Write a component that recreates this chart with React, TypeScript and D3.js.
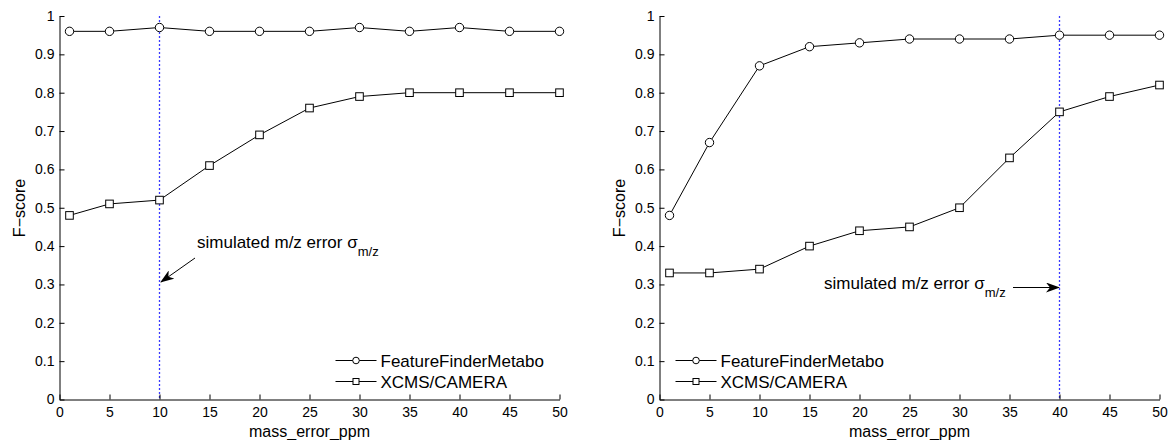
import { useEffect, useRef } from "react";
import * as d3 from "d3";

const PPM = [1, 5, 10, 15, 20, 25, 30, 35, 40, 45, 50];
const X_TICKS = [0, 5, 10, 15, 20, 25, 30, 35, 40, 45, 50];
const Y_TICKS = [0, 0.1, 0.2, 0.3, 0.4, 0.5, 0.6, 0.7, 0.8, 0.9, 1];

const LEFT_FFM = [0.96, 0.96, 0.97, 0.96, 0.96, 0.96, 0.97, 0.96, 0.97, 0.96, 0.96];
const LEFT_XCMS = [0.48, 0.51, 0.52, 0.61, 0.69, 0.76, 0.79, 0.8, 0.8, 0.8, 0.8];
const RIGHT_FFM = [0.48, 0.67, 0.87, 0.92, 0.93, 0.94, 0.94, 0.94, 0.95, 0.95, 0.95];
const RIGHT_XCMS = [0.33, 0.33, 0.34, 0.4, 0.44, 0.45, 0.5, 0.63, 0.75, 0.79, 0.82];

const SERIES_NAMES = ["FeatureFinderMetabo", "XCMS/CAMERA"];
const FONT = "'Liberation Sans', Arial, Helvetica, sans-serif";

interface Panel {
  x0: number;
  ffm: number[];
  xcms: number[];
  sigma: number;
  legendX: number;
  note: { x: number; y: number };
  arrow: [number, number, number, number];
}

const PANELS: Panel[] = [
  { x0: 59.5, ffm: LEFT_FFM, xcms: LEFT_XCMS, sigma: 10, legendX: 335.5, note: { x: 197, y: 248 }, arrow: [195, 258, 161, 282] },
  { x0: 659.5, ffm: RIGHT_FFM, xcms: RIGHT_XCMS, sigma: 40, legendX: 675.5, note: { x: 824, y: 289 }, arrow: [1013, 287.5, 1059, 287.5] },
];

export default function App() {
  const svgRef = useRef<SVGSVGElement>(null);

  useEffect(() => {
    const svg = d3.select(svgRef.current);
    svg.selectAll("*").remove();

    svg
      .append("defs")
      .append("marker")
      .attr("id", "arrowhead")
      .attr("viewBox", "0 0 14 10")
      .attr("refX", 13)
      .attr("refY", 5)
      .attr("markerWidth", 14)
      .attr("markerHeight", 10)
      .attr("markerUnits", "userSpaceOnUse")
      .attr("orient", "auto")
      .append("path")
      .attr("d", "M0,0 L14,5 L0,10 L4,5 Z")
      .attr("fill", "#000");

    const top = 16;
    const bottom = 399.5;
    const width = 500;

    PANELS.forEach((p) => {
      const x = d3.scaleLinear().domain([0, 50]).range([p.x0, p.x0 + width]);
      const y = d3.scaleLinear().domain([0, 1]).range([bottom, top]);
      const g = svg.append("g");

      // sigma line
      g.append("line")
        .attr("x1", x(p.sigma))
        .attr("x2", x(p.sigma))
        .attr("y1", y(1))
        .attr("y2", y(0))
        .attr("stroke", "#3a3aff")
        .attr("stroke-width", 1.3)
        .attr("stroke-dasharray", "2 2");

      g.append("g")
        .attr("transform", `translate(0,${bottom})`)
        .call(d3.axisBottom(x).tickValues(X_TICKS).tickSize(-5).tickPadding(8).tickSizeOuter(0))
        .call((ax) => {
          ax.select(".domain").attr("stroke", "#000");
          ax.selectAll(".tick line").attr("stroke", "#000");
          ax.selectAll("text").attr("fill", "#000").attr("font-size", 14).style("font-family", FONT);
        });
      g.append("g")
        .attr("transform", `translate(${p.x0},0)`)
        .call(
          d3
            .axisLeft(y)
            .tickValues(Y_TICKS)
            .tickSize(-5)
            .tickPadding(5)
            .tickSizeOuter(0)
            .tickFormat((v) => d3.format("~g")(+v)),
        )
        .call((ax) => {
          ax.select(".domain").attr("stroke", "#000");
          ax.selectAll(".tick line").attr("stroke", "#000");
          ax.selectAll("text").attr("fill", "#000").attr("font-size", 14).style("font-family", FONT);
        });

      g.append("text")
        .attr("x", x(25))
        .attr("y", 437)
        .attr("text-anchor", "middle")
        .attr("font-size", 16)
        .style("font-family", FONT)
        .attr("fill", "#000")
        .text("mass_error_ppm");
      g.append("text")
        .attr("transform", `translate(${p.x0 - 35},208) rotate(-90)`)
        .attr("text-anchor", "middle")
        .attr("font-size", 16)
        .style("font-family", FONT)
        .attr("fill", "#000")
        .text("F−score");

      const line = d3
        .line<number>()
        .x((_, i) => x(PPM[i]))
        .y((d) => y(d));

      [p.ffm, p.xcms].forEach((vals, si) => {
        g.append("path").attr("d", line(vals)).attr("fill", "none").attr("stroke", "#000").attr("stroke-width", 1);
        if (si === 0) {
          g.selectAll(null)
            .data(vals)
            .join("circle")
            .attr("cx", (_, i) => x(PPM[i]))
            .attr("cy", (d) => y(d))
            .attr("r", 4.2)
            .attr("fill", "#fff")
            .attr("stroke", "#000");
        } else {
          g.selectAll(null)
            .data(vals)
            .join("rect")
            .attr("x", (_, i) => x(PPM[i]) - 3.8)
            .attr("y", (d) => y(d) - 3.8)
            .attr("width", 7.6)
            .attr("height", 7.6)
            .attr("fill", "#fff")
            .attr("stroke", "#000");
        }
      });

      // legend
      const lx = p.legendX;
      SERIES_NAMES.forEach((name, i) => {
        const ly = 360.5 + i * 21;
        g.append("line").attr("x1", lx).attr("x2", lx + 41).attr("y1", ly).attr("y2", ly).attr("stroke", "#000");
        if (i === 0) {
          g.append("circle").attr("cx", lx + 20.5).attr("cy", ly).attr("r", 3.3).attr("fill", "#fff").attr("stroke", "#000");
        } else {
          g.append("rect")
            .attr("x", lx + 17.5)
            .attr("y", ly - 3)
            .attr("width", 6)
            .attr("height", 6)
            .attr("fill", "#fff")
            .attr("stroke", "#000");
        }
        g.append("text")
          .attr("x", lx + 45)
          .attr("y", ly + 6)
          .attr("font-size", 17)
          .style("font-family", FONT)
          .attr("fill", "#000")
          .text(name);
      });

      // annotation
      const t = g
        .append("text")
        .attr("x", p.note.x)
        .attr("y", p.note.y)
        .attr("font-size", 17)
        .style("font-family", FONT)
        .attr("fill", "#000");
      t.append("tspan").text("simulated m/z error σ");
      t.append("tspan").attr("dy", 8).attr("font-size", 13).text("m/z");

      const [ax1, ay1, ax2, ay2] = p.arrow;
      g.append("line")
        .attr("x1", ax1)
        .attr("y1", ay1)
        .attr("x2", ax2)
        .attr("y2", ay2)
        .attr("stroke", "#000")
        .attr("stroke-width", 1)
        .attr("marker-end", "url(#arrowhead)");
    });
  }, []);

  return (
    <svg
      ref={svgRef}
      width={1171}
      height={440}
      style={{ position: "absolute", left: 0, top: 0, background: "#fff" }}
    />
  );
}
